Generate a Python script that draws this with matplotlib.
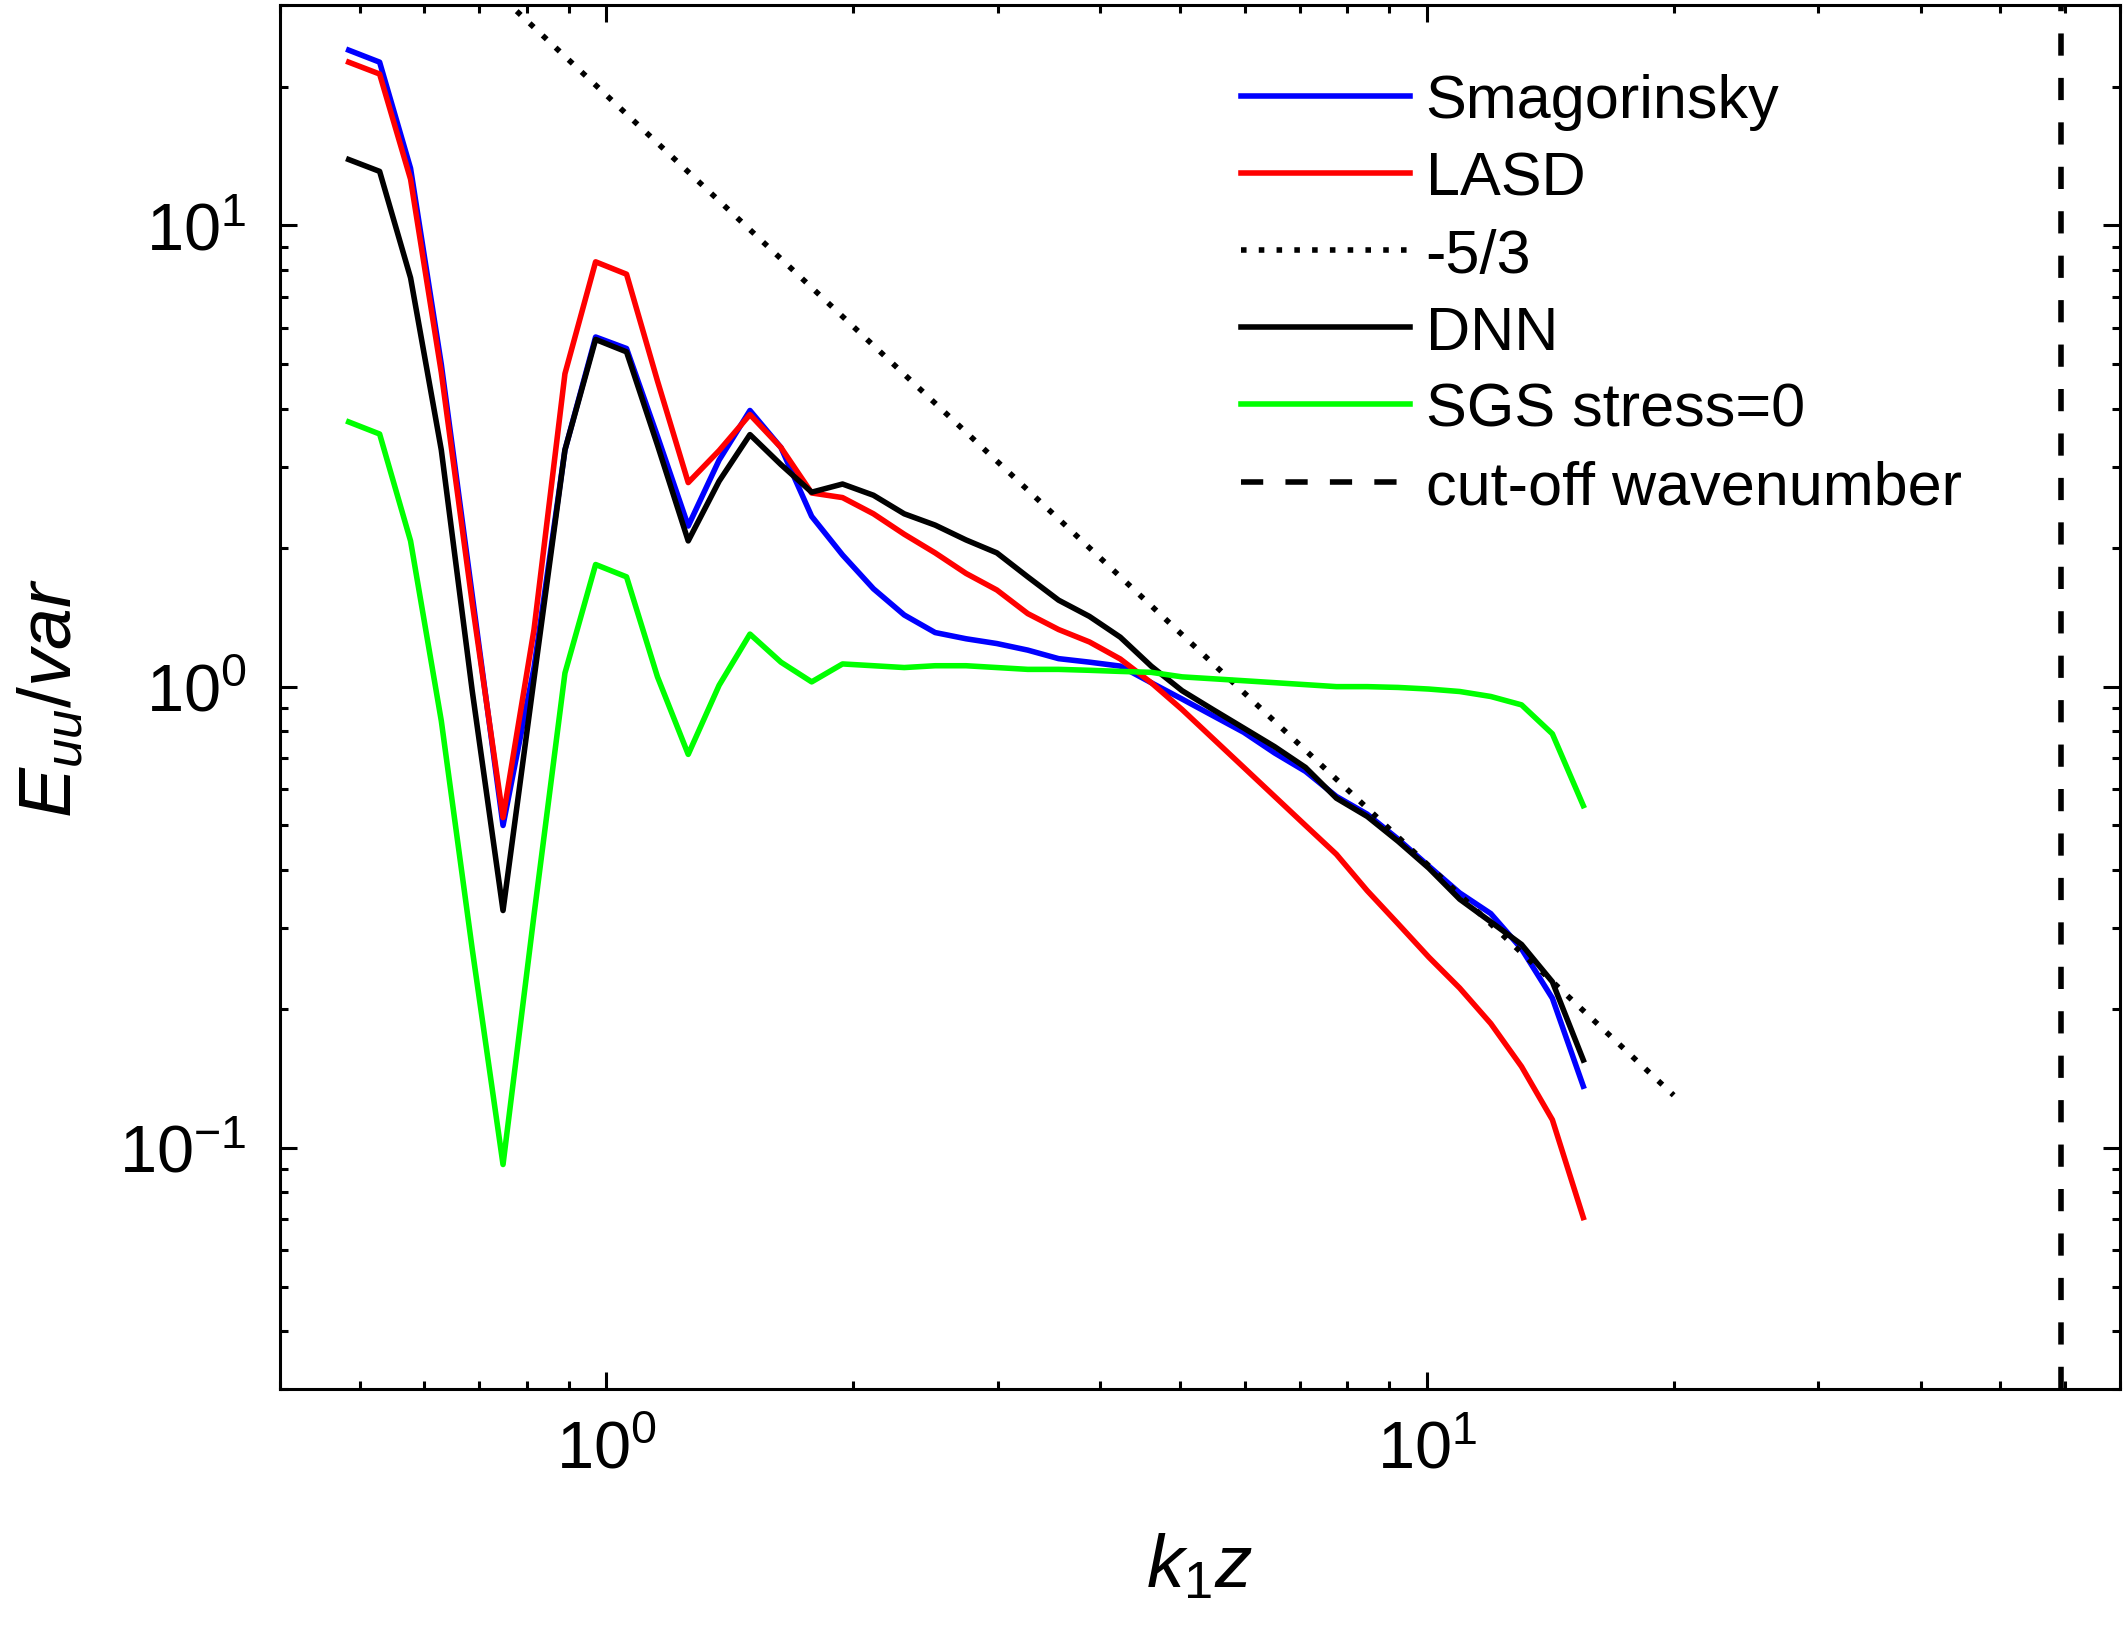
# energy spectra, log-log
import matplotlib
matplotlib.use('Agg')
import numpy as np
import matplotlib.pyplot as plt
from matplotlib.ticker import NullFormatter, LogLocator

plt.rcParams['font.family'] = ['Liberation Sans', 'DejaVu Sans']
plt.rcParams['mathtext.fontset'] = 'custom'
plt.rcParams['mathtext.rm'] = 'Liberation Sans'
plt.rcParams['mathtext.it'] = 'Liberation Sans:italic'
plt.rcParams['axes.unicode_minus'] = False

# wavenumber k1*z
k1z = [0.485, 0.529, 0.577, 0.629, 0.686, 0.748, 0.816, 0.890, 0.970, 1.058,
       1.154, 1.258, 1.372, 1.496, 1.632, 1.779, 1.940, 2.116, 2.307, 2.516,
       2.744, 2.992, 3.263, 3.558, 3.880, 4.231, 4.614, 5.032, 5.487, 5.984,
       6.525, 7.116, 7.760, 8.462, 9.228, 10.06, 10.97, 11.97, 13.05, 14.23,
       15.52]

smag = [24.0, 22.6, 13.3, 5.0, 1.58, 0.50, 1.1, 3.26, 5.73, 5.41,
        3.49, 2.23, 3.10, 3.97, 3.30, 2.34, 1.93, 1.63, 1.43, 1.31,
        1.27, 1.24, 1.20, 1.15, 1.13, 1.108, 1.02, 0.94, 0.865, 0.796,
        0.718, 0.655, 0.578, 0.529, 0.467, 0.408, 0.357, 0.322, 0.27, 0.211,
        0.136]

lasd = [22.6, 21.3, 12.6, 4.8, 1.52, 0.52, 1.33, 4.77, 8.34, 7.84,
        4.6, 2.77, 3.25, 3.89, 3.30, 2.63, 2.57, 2.37, 2.14, 1.95,
        1.76, 1.62, 1.44, 1.33, 1.25, 1.148, 1.02, 0.892, 0.772, 0.668,
        0.578, 0.50, 0.433, 0.361, 0.306, 0.259, 0.222, 0.186, 0.150, 0.115,
        0.0706]

dnn = [13.9, 13.1, 7.7, 3.26, 0.98, 0.327, 1.04, 3.26, 5.66, 5.32,
       3.34, 2.07, 2.79, 3.52, 3.03, 2.64, 2.75, 2.60, 2.37, 2.24,
       2.08, 1.95, 1.73, 1.54, 1.42, 1.28, 1.108, 0.98, 0.892, 0.813,
       0.741, 0.668, 0.573, 0.523, 0.462, 0.404, 0.346, 0.309, 0.276, 0.229,
       0.155]

sgs0 = [3.75, 3.53, 2.07, 0.843, 0.27, 0.092, 0.32, 1.07, 1.84, 1.73,
        1.05, 0.713, 1.007, 1.30, 1.13, 1.024, 1.12, 1.11, 1.10, 1.11,
        1.11, 1.10, 1.09, 1.09, 1.085, 1.079, 1.074, 1.05, 1.04, 1.03,
        1.02, 1.01, 1.0, 1.0, 0.996, 0.988, 0.976, 0.952, 0.913, 0.79,
        0.552]

# -5/3 reference line
ref_k = np.array([0.7, 20.0])
ref_E = 0.13 * (ref_k / 20.0) ** (-5.0 / 3.0)

k_cut = 59.3

fig = plt.figure(figsize=(10.64, 8.245), dpi=200)
ax = fig.add_axes([0.1316, 0.1571, 0.8646, 0.8390])

lw = 2.0
ax.plot(k1z, smag, color='#0000ff', lw=lw, label='Smagorinsky')
ax.plot(k1z, lasd, color='#ff0000', lw=lw, label='LASD')
ax.plot(ref_k, ref_E, color='black', lw=2.0, dashes=(1.0, 2.2), label='-5/3')
ax.plot(k1z, dnn, color='black', lw=lw, label='DNN')
ax.plot(k1z, sgs0, color='#00ff00', lw=lw, label='SGS stress=0')
ax.axvline(k_cut, color='black', lw=2.0, dashes=(4.0, 4.0), label='cut-off wavenumber')

ax.set_xscale('log')
ax.set_yscale('log')
ax.set_xlim(0.4, 70)
ax.set_ylim(0.03, 30)

ax.xaxis.set_minor_formatter(NullFormatter())
ax.yaxis.set_minor_formatter(NullFormatter())
ax.yaxis.set_major_locator(LogLocator(base=10, numticks=10))
ax.tick_params(which='both', direction='in', top=True, right=True, width=1.1,
               labelsize=24)
ax.tick_params(which='major', length=6)
ax.tick_params(which='minor', length=3)
ax.tick_params(axis='x', pad=11)
ax.tick_params(axis='y', pad=12)
for s in ax.spines.values():
    s.set_linewidth(1.1)

ax.set_xlabel(r'$k_1z$', fontsize=27, labelpad=18)
ax.set_ylabel(r'$E_{uu}/var$', fontsize=27, labelpad=12)

leg = ax.legend(loc='upper left', bbox_to_anchor=(0.5832, 0.955),
                bbox_transform=fig.transFigure, frameon=False, fontsize=22,
                handlelength=2.77, handletextpad=0.25, labelspacing=0.33,
                borderpad=0, borderaxespad=0)

fig.savefig('out.png', dpi=200)
